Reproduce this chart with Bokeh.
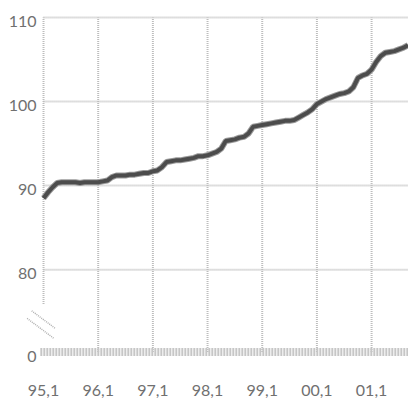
from bokeh.plotting import figure
from bokeh.models import FixedTicker, Range1d
from bokeh.core.properties import value
from bokeh.embed import file_html
from bokeh.resources import INLINE

# monthly index values, Jan 1995 .. Sep 2001
values = [
    88.5, 89.2, 89.8, 90.3, 90.4, 90.4, 90.4, 90.4, 90.3, 90.4, 90.4, 90.4,
    90.4, 90.5, 90.6, 91.0, 91.2, 91.2, 91.2, 91.3, 91.3, 91.4, 91.5, 91.5,
    91.7, 91.8, 92.2, 92.8, 92.9, 93.0, 93.0, 93.1, 93.2, 93.3, 93.5, 93.5,
    93.6, 93.8, 94.0, 94.4, 95.3, 95.4, 95.5, 95.7, 95.8, 96.2, 97.0, 97.1,
    97.2, 97.3, 97.4, 97.5, 97.6, 97.7, 97.7, 97.8, 98.1, 98.4, 98.7, 99.1,
    99.7, 100.0, 100.3, 100.5, 100.7, 100.9, 101.0, 101.2, 101.7, 102.8, 103.1, 103.3,
    103.8, 104.7, 105.4, 105.8, 105.9, 106.0, 106.2, 106.4, 106.7,
]
x_tick_labels = ["95,1", "96,1", "97,1", "98,1", "99,1", "00,1", "01,1"]
y_tick_values = [0, 80, 90, 100, 110]
y_tick_labels = ["0", "80", "90", "100", "110"]

months = list(range(len(values)))
x_ticks = [12 * i for i in range(len(x_tick_labels))]

X_END = 80.1
X_START = -9.44     # room on the left for the labels and the break marks
Y_START, Y_END = 68.0, 112.02
BREAK_Y = 70.2      # where the value 0 sits below the axis break
LABEL_DROP = 0.5    # labels sit a little below their grid lines
Y_TOP = max(y_tick_values)


def ypos(v):
    return BREAK_Y if v == 0 else v


FONT = "Lato"
TXT = "#707070"
GRID = "#bdbdbd"

p = figure(frame_width=408, frame_height=370, output_backend="svg",
           toolbar_location=None, x_range=Range1d(X_START, X_END),
           y_range=Range1d(Y_START, Y_END),
           min_border_left=0, min_border_right=0, min_border_top=0,
           min_border_bottom=28)
p.outline_line_color = None
p.background_fill_color = "white"
p.yaxis.visible = False
p.xgrid.visible = False
p.ygrid.visible = False

# vertical grid lines, from the top line down to the zero band
vgrid = x_ticks[1:]
p.segment(x0=vgrid, y0=[BREAK_Y] * len(vgrid), x1=vgrid, y1=[Y_TOP] * len(vgrid),
          line_color=GRID, line_width=2, line_dash="1 1")

# horizontal grid lines, starting at the y spine
hgrid = [v for v in y_tick_values if v != 0]
p.segment(x0=[0] * len(hgrid), y0=hgrid, x1=[X_END] * len(hgrid), y1=hgrid,
          line_color=GRID, line_width=2, line_dash="1 1")

# left spine (stops above the break)
p.segment(x0=[0], y0=[75.9], x1=[0], y1=[Y_TOP], line_color=GRID,
          line_width=2, line_dash="1 1")
# zero baseline band
p.segment(x0=[-0.7], y0=[BREAK_Y], x1=[X_END], y1=[BREAK_Y], line_color="#c6c6c6",
          line_width=8, line_dash="2 1")

# axis break marks
p.segment(x0=[-2.6, -3.6], y0=[75.1, 74.2], x1=[2.6, 2.2], y1=[73.0, 71.85],
          line_color="#b0b0b0", line_width=1.5, line_dash="1 1")

# y tick labels
p.text(x=[-1.54] * len(y_tick_values),
       y=[ypos(v) - LABEL_DROP for v in y_tick_values],
       text=y_tick_labels, text_font=value(FONT), text_font_size="16px",
       text_color=TXT, text_align="right", text_baseline="middle")

# x axis (labels only)
p.xaxis.ticker = FixedTicker(ticks=x_ticks)
p.xaxis.major_label_overrides = {t: lab for t, lab in zip(x_ticks, x_tick_labels)}
p.xaxis.axis_line_color = None
p.xaxis.major_tick_line_color = None
p.xaxis.minor_tick_line_color = None
p.xaxis.major_label_standoff = 8
p.xaxis.major_label_text_font = FONT
p.xaxis.major_label_text_font_size = "16px"
p.xaxis.major_label_text_color = TXT

# series
p.line(months, values, line_color="#9a9a9a", line_width=6)
p.line(months, values, line_color="#4c4c4c", line_width=4)

open("out.html", "w").write(file_html(p, INLINE))
